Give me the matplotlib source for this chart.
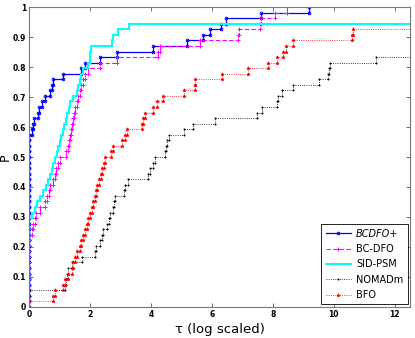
import matplotlib
matplotlib.use("Agg")
import matplotlib.pyplot as plt
import numpy as np

n_problems = 54
x_max = 12.5

solvers = ["BCDFO+", "BC-DFO", "SID-PSM", "NOMADm", "BFO"]

# log-scaled performance ratio at which each problem is solved (sorted)
tau_bcdfo_plus = [0.0] * 31 + [0.1, 0.13, 0.15, 0.3, 0.32, 0.43, 0.52, 0.69, 0.75, 0.79,
                               1.12, 1.7, 1.84, 2.33, 2.88, 4.07, 5.17, 5.7, 5.93, 6.3,
                               6.46, 7.6, 9.18]
tau_bc_dfo = [0.0] * 13 + [0.1, 0.14, 0.18, 0.23, 0.36, 0.52, 0.6, 0.65, 0.7, 0.78,
                           0.85, 0.9, 0.95, 1.0, 1.2, 1.28, 1.31, 1.34, 1.37, 1.4,
                           1.43, 1.48, 1.52, 1.56, 1.6, 1.66, 1.72, 1.78, 1.84, 1.95,
                           2.33, 2.88, 4.23, 4.3, 5.6, 6.85, 6.9, 7.57, 7.6, 8.07, 8.46]
tau_sid_psm = [0.0] * 16 + [0.1, 0.2, 0.26, 0.36, 0.46, 0.55, 0.62, 0.7, 0.75, 0.79,
                            0.85, 0.92, 0.96, 1.0, 1.05, 1.12, 1.15, 1.2, 1.25, 1.3,
                            1.34, 1.45, 1.57, 1.62, 1.67, 1.72, 1.77, 1.95, 2.0, 2.0,
                            2.02, 2.72, 2.75, 2.92, 3.28]
tau_nomadm = [0.0] * 3 + [1.18, 1.2, 1.25, 1.28, 1.4, 1.73, 2.16, 2.2, 2.33, 2.38,
                          2.43, 2.56, 2.62, 2.66, 2.75, 2.78, 2.82, 3.1, 3.15, 3.25,
                          3.9, 3.97, 4.07, 4.13, 4.46, 4.5, 4.52, 4.6, 5.1, 5.37,
                          6.1, 7.48, 7.64, 8.13, 8.16, 8.3, 8.66, 9.5, 9.8, 9.84,
                          9.87, 11.38]
tau_bfo = [0.0, 0.78, 0.85, 1.12, 1.18, 1.28, 1.4, 1.45, 1.5, 1.57, 1.67, 1.72, 1.77,
           1.85, 1.9, 1.95, 2.0, 2.06, 2.1, 2.16, 2.2, 2.23, 2.3, 2.36, 2.4, 2.45, 2.5,
           2.7, 2.75, 3.05, 3.15, 3.2, 3.7, 3.75, 3.8, 4.07, 4.2, 4.4, 5.1, 5.44, 5.46,
           6.33, 7.18, 7.84, 8.13, 8.33, 8.43, 8.66, 10.6, 10.62]

all_taus = [tau_bcdfo_plus, tau_bc_dfo, tau_sid_psm, tau_nomadm, tau_bfo]

styles = [
    dict(color="#0000ff", ls="-", lw=0.9, marker="o", ms=1.9, mfc="none", mew=0.7),
    dict(color="#ff00ff", ls=(0, (4, 2)), lw=0.8, marker="+", ms=3.0, mew=0.7),
    dict(color="#00ffff", ls="-", lw=1.5, marker=".", ms=1.2),
    dict(color="#000000", ls=":", lw=0.6, marker=".", ms=1.8),
    dict(color="#ff0000", ls=":", lw=0.6, marker="*", ms=2.6, mew=0.4),
]

fig = plt.figure(figsize=(4.15, 3.38), dpi=100)
ax = fig.add_axes([0.07, 0.092, 0.918, 0.887])

for name, taus, st in zip(solvers, all_taus, styles):
    taus = sorted(taus)
    xs, ys = [], []
    for i, t in enumerate(taus):
        xs += [t, t]
        ys += [i / n_problems, (i + 1) / n_problems]
    ax.plot(xs, ys, linestyle=st["ls"], color=st["color"], lw=st["lw"],
            marker=st["marker"], ms=st["ms"], mfc=st.get("mfc", st["color"]),
            mec=st["color"], mew=st.get("mew", 0.5), label=name)
    if len(taus) < n_problems:
        ax.plot([xs[-1], x_max], [ys[-1], ys[-1]], linestyle=st["ls"],
                color=st["color"], lw=st["lw"])

ax.set_xlim(0, x_max)
ax.set_ylim(0, 1)
ax.set_xticks([0, 2, 4, 6, 8, 10, 12])
ax.set_yticks(np.round(np.arange(0, 1.01, 0.1), 1))
ax.set_yticklabels(["0", "0.1", "0.2", "0.3", "0.4", "0.5", "0.6", "0.7", "0.8", "0.9", "1"])
ax.tick_params(direction="in", length=3, width=0.6, labelsize=5.5, top=True, right=True,
               colors="#555555", labelcolor="black", pad=2)
for lab in ax.get_xticklabels() + ax.get_yticklabels():
    lab.set_fontweight("bold")
for sp in ax.spines.values():
    sp.set_color("#777777")
    sp.set_linewidth(0.8)

ax.set_ylabel("P", fontsize=9)
ax.yaxis.set_label_coords(-0.045, 0.5)
ax.set_xlabel("τ (log scaled)", fontsize=9.5, labelpad=3)

leg = ax.legend(loc="lower right", fontsize=7, frameon=True, fancybox=False,
                edgecolor="black", framealpha=1, borderpad=0.45, labelspacing=0.55,
                handlelength=2.6, handletextpad=0.5, borderaxespad=0.25)
leg.get_frame().set_linewidth(0.6)
leg.get_texts()[0].set_fontstyle("italic")

fig.savefig("out.png", dpi=100)
